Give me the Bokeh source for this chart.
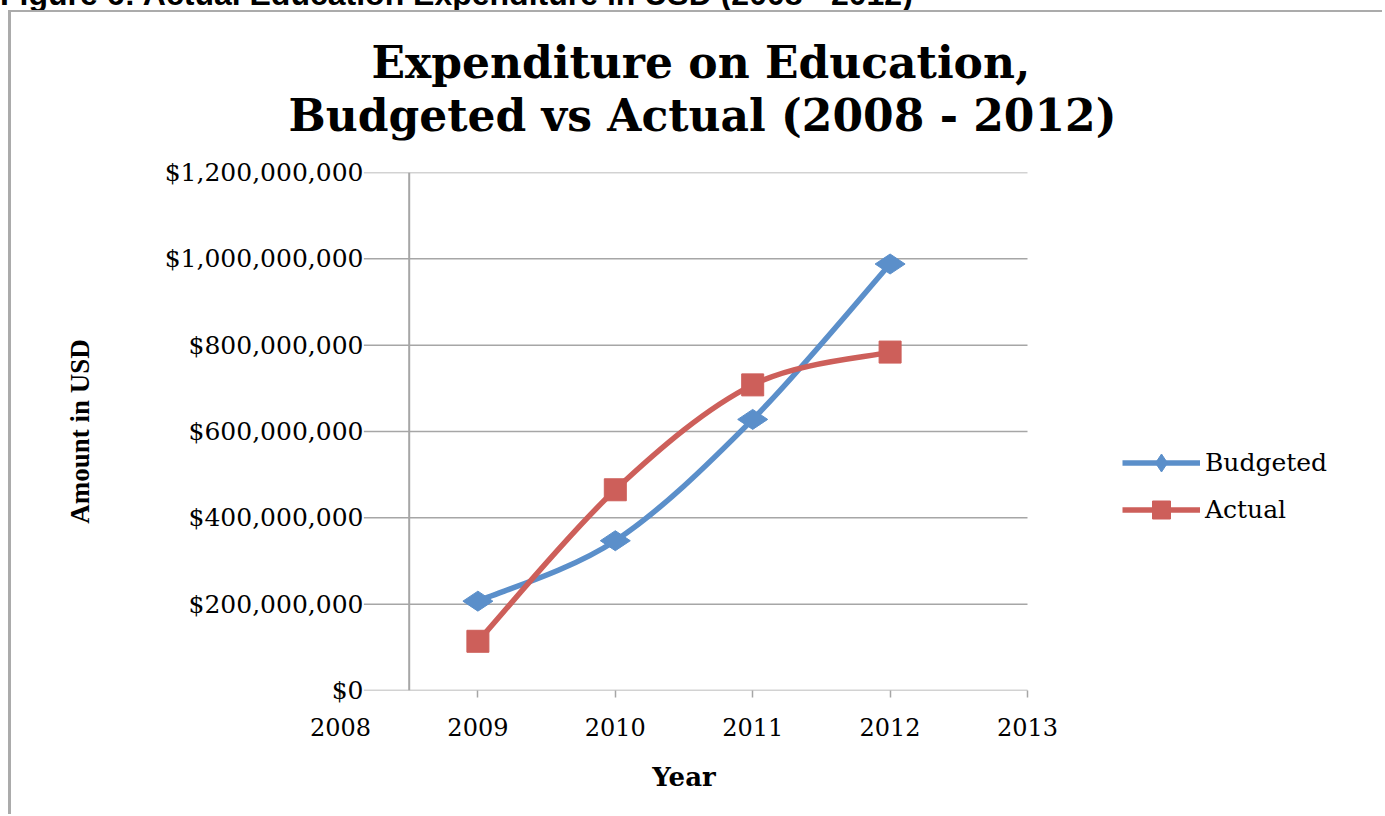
import numpy as np
from bokeh.plotting import figure
from bokeh.models import (Title, Legend, LegendItem, FixedTicker, NumeralTickFormatter,
                          Span, Div, Range1d, LinearAxis)
from bokeh.layouts import column
from bokeh.embed import file_html
from bokeh.resources import INLINE

# ---------------- data ----------------
caption = "Figure 6: Actual Education Expenditure in USD (2008 - 2012)"
title_line1 = "Expenditure on Education,"
title_line2 = "Budgeted vs Actual (2008 - 2012)"
years = [2009, 2010, 2011, 2012]
budgeted = [207e6, 347e6, 628e6, 988e6]
actual = [114e6, 465e6, 708e6, 784e6]
x_ticks = [2008, 2009, 2010, 2011, 2012, 2013]
y_ticks = [0, 200e6, 400e6, 600e6, 800e6, 1000e6, 1200e6]
series_names = ["Budgeted", "Actual"]
x_label = "Year"
y_label = "Amount in USD"

# ---------------- style / layout ----------------
BLUE = "#5B8FCA"
RED = "#CD5F5A"
GRID = "#a6a6a6"
SERIF = "DejaVu Serif"

W, H = 1374, 804
FL, FT, FB = 329, 160, 678          # frame edges inside the canvas (px)
PX_PER_YEAR = 137.4
x_start, x_end_axis = 2008, 2013
x_end_frame = x_start + (W - FL) / PX_PER_YEAR
grid_start = 2008.17                # gridlines begin right of tick labels
y_axis_cross = 2008.5               # vertical axis line position
x_label_pos = (x_start + x_end_axis) / 2

p = figure(width=W, height=H, output_backend="svg", toolbar_location=None,
           x_range=Range1d(x_start, x_end_frame), y_range=Range1d(0, 1.2e9),
           min_border_left=FL, min_border_right=0,
           min_border_top=FT, min_border_bottom=H - FB)
p.margin = (10, 0, 0, 8)
p.styles = {"border-left": "3px solid #ababab", "border-top": "2px solid #ababab"}
p.outline_line_color = None
p.background_fill_color = "white"
p.border_fill_color = "white"

# titles (two lines; the later-added title sits closer to the plot)
p.title.text = title_line1
p.title.align = "left"
p.title.offset = 31
p.title.text_font = SERIF
p.title.text_font_style = "bold"
p.title.text_font_size = "44px"
p.title.text_color = "black"
p.title.standoff = -64
t2 = Title(text=title_line2, align="left", offset=-52, text_font=SERIF,
           text_font_style="bold", text_font_size="44px", text_color="black",
           standoff=64)
p.add_layout(t2, "above")

# axes
p.xgrid.grid_line_color = None
p.ygrid.grid_line_color = None

p.xaxis.ticker = FixedTicker(ticks=x_ticks)
p.xaxis.axis_line_color = None
p.xaxis.major_tick_line_color = GRID
p.xaxis.major_tick_line_width = 1.5
p.xaxis.major_tick_in = 0
p.xaxis.major_tick_out = 7
p.xaxis.minor_tick_line_color = None
p.xaxis.major_label_text_font = SERIF
p.xaxis.major_label_text_font_size = "24px"
p.xaxis.major_label_text_color = "black"
p.xaxis.major_label_standoff = 20

# x axis title, centred under the 2008-2013 axis
year_axis = LinearAxis(ticker=FixedTicker(ticks=[x_label_pos]),
                       major_label_overrides={x_label_pos: x_label},
                       axis_line_color=None, major_tick_line_color=None,
                       minor_tick_line_color=None, major_label_text_font=SERIF,
                       major_label_text_font_style="bold",
                       major_label_text_font_size="26px",
                       major_label_text_color="black", major_label_standoff=17)
p.add_layout(year_axis, "below")

p.yaxis.ticker = FixedTicker(ticks=y_ticks)
p.yaxis.formatter = NumeralTickFormatter(format="$0,0")
p.yaxis.axis_line_color = None
p.yaxis.major_tick_line_color = None
p.yaxis.minor_tick_line_color = None
p.yaxis.major_label_text_font = SERIF
p.yaxis.major_label_text_font_size = "25px"
p.yaxis.major_label_text_color = "black"
p.yaxis.major_label_standoff = -29
p.yaxis.axis_label = y_label
p.yaxis.axis_label_text_font = "Liberation Serif"
p.yaxis.axis_label_text_font_style = "bold"
p.yaxis.axis_label_text_font_size = "27px"
p.yaxis.axis_label_text_color = "black"
p.yaxis.axis_label_standoff = 67

# horizontal gridlines (only across the Excel plot area) and vertical axis line
p.segment(x0=[grid_start] * len(y_ticks), x1=[x_end_axis] * len(y_ticks),
          y0=y_ticks, y1=y_ticks, line_color=GRID, line_width=1.5, level="underlay")
p.add_layout(Span(location=y_axis_cross, dimension="height", line_color=GRID,
                  line_width=2))


# smoothed lines (Excel-like smoothing) built from the data points
def smooth(xs, ys, t=1 / 6):
    n = len(xs)
    d = dict(x0=[], y0=[], x1=[], y1=[], cx0=[], cy0=[], cx1=[], cy1=[])
    for i in range(n - 1):
        im, i2 = max(i - 1, 0), min(i + 2, n - 1)
        d["x0"].append(xs[i]); d["y0"].append(ys[i])
        d["x1"].append(xs[i + 1]); d["y1"].append(ys[i + 1])
        d["cx0"].append(xs[i] + (xs[i + 1] - xs[im]) * t)
        d["cy0"].append(ys[i] + (ys[i + 1] - ys[im]) * t)
        d["cx1"].append(xs[i + 1] - (xs[i2] - xs[i]) * t)
        d["cy1"].append(ys[i + 1] - (ys[i2] - ys[i]) * t)
    return d


b_line = p.bezier(line_color=BLUE, line_width=5.5, **smooth(years, budgeted))
a_line = p.bezier(line_color=RED, line_width=5.5, **smooth(years, actual))
b_pts = p.scatter(years, budgeted, marker="diamond", size=30, angle=np.pi / 2,
                  color=BLUE)
a_pts = p.scatter(years, actual, marker="square", size=22, color=RED)

legend = Legend(items=[LegendItem(label=series_names[0], renderers=[b_line, b_pts]),
                       LegendItem(label=series_names[1], renderers=[a_line, a_pts])],
                location=(782, 158), glyph_width=78, glyph_height=45, label_height=45,
                spacing=2, label_standoff=5, padding=0, margin=0,
                border_line_color=None, background_fill_alpha=0,
                label_text_font=SERIF, label_text_font_size="25px",
                label_text_color="black")
p.add_layout(legend, "center")

cap = Div(text=('<div style="font-family: \'Liberation Sans\', Arial, sans-serif; '
                'font-weight: bold; font-size: 32px; line-height: 36px; '
                'white-space: nowrap; color: #000;">' + caption + '</div>'),
          width=W, height=24, margin=(-24, 0, 0, 0))

layout = column(cap, p)
open("out.html", "w").write(file_html(layout, INLINE))
